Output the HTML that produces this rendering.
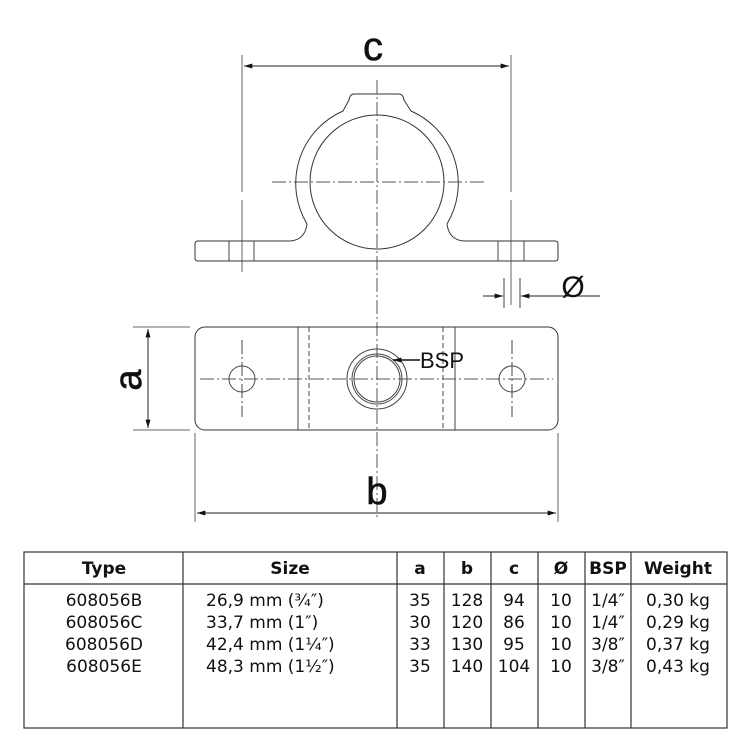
<!DOCTYPE html>
<html><head><meta charset="utf-8"><style>
body{margin:0;background:#fff;width:750px;height:750px;overflow:hidden}
svg{position:absolute;left:0;top:0}
text{font-family:"Liberation Sans",sans-serif;fill:#111}
.t{font-family:"DejaVu Sans","Liberation Sans",sans-serif;font-size:17px}
.h{font-family:"DejaVu Sans","Liberation Sans",sans-serif;font-size:17px;font-weight:bold}
</style></head><body>
<svg width="750" height="750" viewBox="0 0 750 750">
<defs><marker id="ar" viewBox="0 0 10 6" refX="10" refY="3" markerWidth="16" markerHeight="5" markerUnits="userSpaceOnUse" orient="auto-start-reverse"><path d="M0,0 L10,3 L0,6 Z" fill="#111"/></marker></defs>
<g fill="none" stroke="#444" stroke-width="1">
<line x1="242" y1="55" x2="242" y2="192" stroke="#666"/><line x1="242" y1="200" x2="242" y2="272" stroke="#666"/>
<line x1="511" y1="55" x2="511" y2="192" stroke="#666"/><line x1="511" y1="200" x2="511" y2="305" stroke="#666"/>
<line x1="244" y1="66" x2="509" y2="66" stroke="#222" marker-start="url(#ar)" marker-end="url(#ar)"/>
<path d="M198,241 L290,241 Q305,240 307,224 A79,79 0 0 1 343,111 L349,100 Q350,94 354,94 L399,94 Q403,94 404,100 L411,111 A79,79 0 0 1 447,224 Q449,240 464,241 L555,241 Q558,241 558,244 L558,258 Q558,261 555,261 L198,261 Q195,261 195,258 L195,244 Q195,241 198,241 Z" stroke="#333"/>
<circle cx="377" cy="182" r="67" stroke="#333"/>
<line x1="229" y1="241" x2="229" y2="261"/><line x1="254" y1="241" x2="254" y2="261"/>
<line x1="498" y1="241" x2="498" y2="261"/><line x1="524" y1="241" x2="524" y2="261"/>
<line x1="377" y1="80" x2="377" y2="520" stroke-dasharray="14,3,2,3" stroke="#555"/>
<line x1="272" y1="182" x2="485" y2="182" stroke-dasharray="14,3,2,3" stroke="#555"/>
<line x1="504" y1="278" x2="504" y2="308"/><line x1="520" y1="278" x2="520" y2="308"/>
<line x1="483" y1="296" x2="503" y2="296" stroke="#222" marker-end="url(#ar)"/>
<line x1="600" y1="296" x2="521" y2="296" stroke="#222" marker-end="url(#ar)"/>
<rect x="195" y="327" width="363" height="103" rx="10" stroke="#333"/>
<line x1="298" y1="327" x2="298" y2="430"/><line x1="455" y1="327" x2="455" y2="430"/>
<line x1="309" y1="327" x2="309" y2="430" stroke-dasharray="5,3"/><line x1="443" y1="327" x2="443" y2="430" stroke-dasharray="5,3"/>
<circle cx="242" cy="379" r="13"/><circle cx="512" cy="379" r="13"/>
<line x1="242" y1="340" x2="242" y2="417" stroke-dasharray="14,3,2,3"/><line x1="512" y1="340" x2="512" y2="417" stroke-dasharray="14,3,2,3"/>
<line x1="200" y1="379" x2="553" y2="379" stroke-dasharray="14,3,2,3" stroke="#555"/>
<circle cx="377" cy="379" r="30"/><circle cx="377" cy="379" r="25"/><circle cx="377" cy="379" r="23"/>
<line x1="420" y1="360" x2="393" y2="360" stroke="#111" stroke-width="1.5" marker-end="url(#ar)"/>
<line x1="133" y1="327" x2="190" y2="327" stroke="#666"/><line x1="133" y1="430" x2="190" y2="430" stroke="#666"/>
<line x1="148" y1="329" x2="148" y2="428" stroke="#222" marker-start="url(#ar)" marker-end="url(#ar)"/>
<line x1="195" y1="433" x2="195" y2="522" stroke="#666"/><line x1="558" y1="433" x2="558" y2="522" stroke="#666"/>
<line x1="197" y1="513" x2="556" y2="513" stroke="#222" marker-start="url(#ar)" marker-end="url(#ar)"/>
</g>
<text x="373" y="60" font-size="40" text-anchor="middle" stroke="#111" stroke-width="0.6">c</text>
<text x="573" y="297" font-size="30" text-anchor="middle">Ø</text>
<text x="442" y="368" font-size="22" text-anchor="middle">BSP</text>
<text x="0" y="0" font-size="38" text-anchor="middle" stroke="#111" stroke-width="0.6" transform="translate(141,380) rotate(-90)">a</text>
<text x="377" y="504" font-size="38" text-anchor="middle" stroke="#111" stroke-width="0.6">b</text>
<g stroke="#333" stroke-width="1.2" fill="none">
<rect x="24" y="552" width="703" height="176"/>
<line x1="24" y1="584" x2="727" y2="584"/>
<line x1="183" y1="552" x2="183" y2="728"/><line x1="397" y1="552" x2="397" y2="728"/>
<line x1="444" y1="552" x2="444" y2="728"/><line x1="491" y1="552" x2="491" y2="728"/>
<line x1="538" y1="552" x2="538" y2="728"/><line x1="585" y1="552" x2="585" y2="728"/>
<line x1="631" y1="552" x2="631" y2="728"/>
</g>
<g class="h" text-anchor="middle">
<text x="104" y="574" class="h">Type</text><text x="290" y="574" class="h">Size</text>
<text x="420" y="574" class="h">a</text><text x="467" y="574" class="h">b</text>
<text x="514" y="574" class="h">c</text><text x="561" y="574" class="h">Ø</text>
<text x="608" y="574" class="h">BSP</text><text x="678" y="574" class="h">Weight</text>
</g>
<g class="t" text-anchor="middle">
<text class="t" x="104" y="606">608056B</text><text class="t" x="104" y="628">608056C</text><text class="t" x="104" y="650">608056D</text><text class="t" x="104" y="672">608056E</text>
<text class="t" x="420" y="606">35</text><text class="t" x="420" y="628">30</text><text class="t" x="420" y="650">33</text><text class="t" x="420" y="672">35</text>
<text class="t" x="467" y="606">128</text><text class="t" x="467" y="628">120</text><text class="t" x="467" y="650">130</text><text class="t" x="467" y="672">140</text>
<text class="t" x="514" y="606">94</text><text class="t" x="514" y="628">86</text><text class="t" x="514" y="650">95</text><text class="t" x="514" y="672">104</text>
<text class="t" x="561" y="606">10</text><text class="t" x="561" y="628">10</text><text class="t" x="561" y="650">10</text><text class="t" x="561" y="672">10</text>
<text class="t" x="608" y="606">1/4″</text><text class="t" x="608" y="628">1/4″</text><text class="t" x="608" y="650">3/8″</text><text class="t" x="608" y="672">3/8″</text>
<text class="t" x="678" y="606">0,30 kg</text><text class="t" x="678" y="628">0,29 kg</text><text class="t" x="678" y="650">0,37 kg</text><text class="t" x="678" y="672">0,43 kg</text>
</g>
<g class="t">
<text class="t" x="206" y="606">26,9 mm (¾″)</text><text class="t" x="206" y="628">33,7 mm (1″)</text>
<text class="t" x="206" y="650">42,4 mm (1¼″)</text><text class="t" x="206" y="672">48,3 mm (1½″)</text>
</g>
</svg>
</body></html>
